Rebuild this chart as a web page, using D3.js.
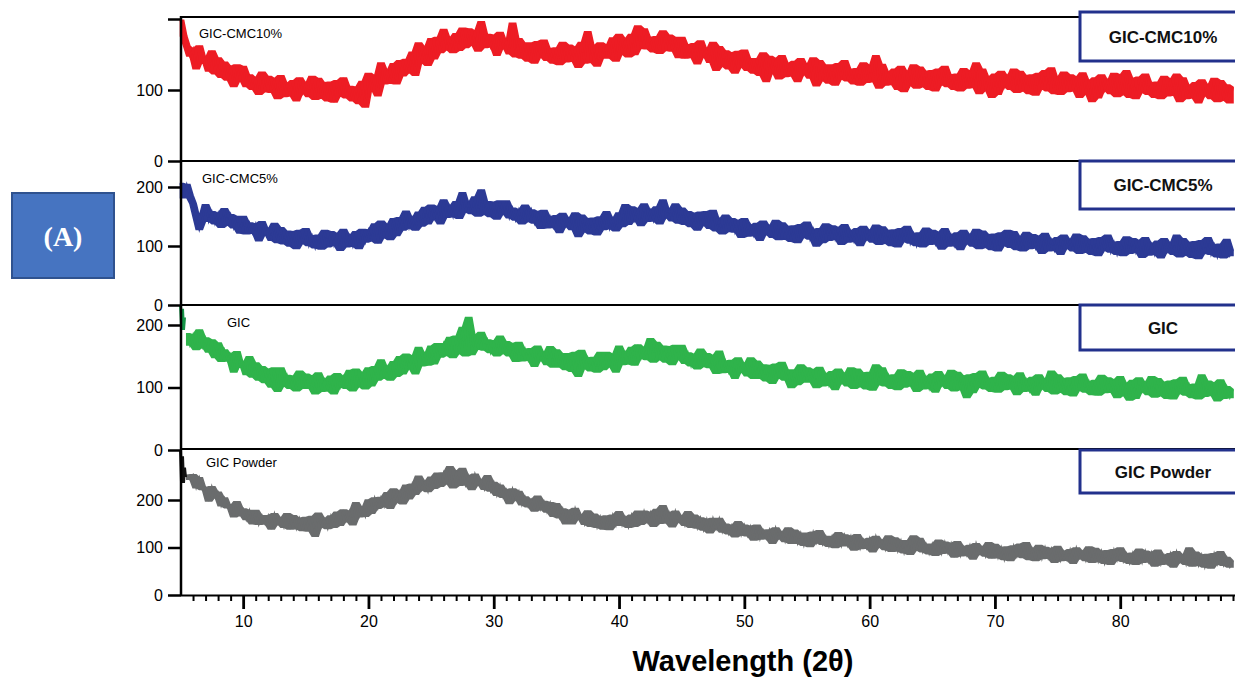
<!DOCTYPE html>
<html><head><meta charset="utf-8">
<script src="https://cdn.jsdelivr.net/npm/d3@7"></script>
<style>body{margin:0;background:#fff;} svg{display:block;font-family:Arial,"Liberation Sans",sans-serif;}</style>
</head><body><svg id="c" width="1235" height="678"></svg>
<script>
// ---------- data ----------
const thetaStart = 5, thetaStep = 0.25;   // 2θ sampling grid (degrees)
const seriesNames = ["GIC-CMC10%", "GIC-CMC5%", "GIC", "GIC Powder"];
const seriesColors = ["#ed1c24", "#2c3a95", "#2fb34b", "#6a6c6d"];

const gicCmc10 = [
198,176,162,148, 158,130,162,141, 145,127,155,123, 145,118,139,114, 133,105,135,114,
133,105,121,101, 117,94,125,98, 119,97,116,88, 120,91,109,92, 113,85,117,96,
109,91,119,87, 116,89,110,85, 111,83,113,92, 117,89,105,85, 104,81,112,76,
123,101,120,92, 138,109,127,110, 137,109,141,120, 143,125,153,121, 166,139,160,135,
172,144,174,153, 185,157,173,153, 179,156,187,160, 186,164,183,155, 196,160,178,161,
177,149,181,160, 169,151,194,147, 172,145,166,141, 166,138,168,147, 170,142,158,138,
159,136,167,140, 163,141,160,132, 167,138,182,139, 162,134,166,145, 163,145,173,141,
178,151,172,147, 178,150,190,159, 186,158,174,154, 175,152,183,156, 177,155,174,146,
174,145,163,146, 165,137,169,148, 157,139,167,128, 161,134,155,130, 152,124,154,133,
156,128,144,124, 144,121,152,112, 147,125,144,116, 148,119,137,120, 140,112,144,123,
135,117,145,106, 141,114,135,110, 135,107,137,116, 141,113,129,109, 130,107,138,111,
134,112,148,103, 136,107,125,108, 129,101,133,98, 125,107,135,103, 132,105,126,101,
127,99,129,108, 133,105,121,101, 122,99,130,103, 126,104,138,95, 129,100,118,90,
122,94,126,105, 119,101,129,97, 126,99,120,95, 121,93,123,102, 127,99,131,95,
117,94,125,98, 121,99,118,90, 124,95,113,84, 117,89,121,100, 113,95,123,91,
121,94,127,90, 116,88,118,97, 122,94,110,90, 111,88,119,92, 115,93,122,84,
117,88,106,89, 110,82,114,93, 106,88,116,84, 113,86,107,82, 104
];

const gicCmc5 = [
206,182,204,186, 172,150,128,146, 170,142,158,138, 155,132,163,136, 153,131,150,122,
150,121,139,122, 137,109,141,120, 128,110,138,106, 131,104,125,100, 124,96,126,105,
129,101,117,97, 118,95,126,99, 124,102,121,93, 128,99,117,100, 124,96,128,107,
127,109,137,105, 142,115,136,111, 146,118,148,127, 159,131,147,127, 157,134,165,138,
169,147,166,138, 178,149,167,150, 175,147,190,158, 173,155,183,151, 195,154,175,150,
174,146,176,155, 176,148,164,144, 161,138,169,142, 161,139,158,130, 160,131,149,132,
151,123,155,134, 146,128,156,116, 152,125,146,121, 147,119,149,128, 158,130,146,126,
156,133,170,137, 166,144,163,135, 171,142,160,143, 166,138,178,149, 161,143,171,139,
164,137,158,133, 155,127,157,136, 158,130,160,126, 144,121,152,125, 146,124,143,115,
146,117,135,118, 138,110,142,121, 133,115,143,111, 139,112,133,108, 134,106,136,115,
140,112,128,100, 129,106,137,110, 134,112,131,103, 136,107,125,108, 129,101,133,112,
125,107,135,103, 132,105,126,101, 127,99,129,108, 133,105,121,101, 122,99,130,103,
126,104,123,95, 129,100,118,101, 122,94,126,105, 118,100,128,96, 125,98,119,94,
120,92,122,101, 126,98,124,94, 115,92,123,96, 119,97,116,88, 121,92,110,93,
114,86,118,97, 110,92,120,88, 117,90,111,86, 112,84,114,93, 118,90,106,86,
107,84,115,88, 112,90,109,81, 114,85,103,86, 108,80,112,91, 104,86,118,82,
112,85,106,81, 107,79,109,88, 114,86,102,82, 103,80,111,84, 94
];

const gic = [
null,null,186,168, 184,161,192,165, 179,157,176,148, 171,142,160,143, 153,125,157,136,
139,121,149,117, 139,112,133,108, 129,101,131,94, 131,103,119,99, 118,95,126,99,
121,99,118,90, 123,94,112,95, 118,90,122,101, 117,99,127,95, 129,102,123,98,
131,103,133,112, 144,116,132,112, 141,118,149,122, 153,131,150,122, 164,135,153,136,
166,138,170,149, 170,152,180,148, 182,155,196,151, 212,153,183,162, 188,160,176,156,
174,151,182,155, 173,151,170,142, 172,143,161,144, 162,134,166,145, 155,137,165,133,
160,133,154,129, 154,126,156,118, 159,131,147,127, 148,125,156,129, 156,134,153,125,
166,137,155,138, 164,136,168,147, 163,145,178,141, 172,145,166,141, 165,137,167,146,
167,139,155,135, 153,130,161,134, 154,132,151,123, 158,124,142,125, 143,115,147,126,
137,119,147,115, 142,115,136,111, 135,107,137,116, 140,112,128,100, 128,105,136,109,
131,109,128,100, 132,103,121,104, 125,97,129,108, 121,103,131,99, 129,102,123,98,
124,96,136,105, 131,103,119,99, 120,97,128,101, 125,103,122,94, 127,98,116,99,
121,93,125,104, 117,99,127,95, 124,97,118,84, 120,92,122,101, 126,98,114,94,
116,93,124,97, 120,98,117,89, 123,94,112,95, 116,88,120,99, 112,94,126,90,
120,93,114,89, 115,87,117,96, 121,93,109,89, 111,88,119,92, 115,93,112,84,
117,88,106,80, 111,83,115,94, 107,89,117,85, 114,87,108,83, 110,82,112,91,
116,88,104,84, 105,82,120,86, 110,88,107,79, 112,83,101,84, 97
];

const gicPowder = [
null,null,252,244, 253,226,247,222, 226,198,228,207, 216,188,204,184, 188,165,196,169,
181,159,178,150, 178,149,167,150, 167,139,171,150, 161,143,171,139, 167,140,161,136,
163,135,165,124, 172,144,160,140, 166,143,174,147, 179,157,176,148, 194,165,183,166,
200,172,204,183, 205,187,215,183, 223,196,217,192, 231,203,233,212, 250,222,238,218,
248,225,256,229, 257,235,270,226, 260,231,266,232, 250,222,254,233, 241,223,251,219,
237,210,231,206, 221,193,223,202, 218,190,206,186, 200,177,208,181, 197,175,194,166,
192,163,181,150, 178,150,182,161, 167,149,177,145, 170,143,164,139, 166,138,168,147,
175,147,163,143, 168,145,176,149, 176,154,173,145, 180,151,188,152, 172,144,176,155,
165,147,175,143, 168,141,162,137, 159,131,161,140, 161,133,149,129, 146,123,154,127,
147,125,144,116, 147,118,136,119, 137,109,141,120, 131,113,141,109, 136,109,130,105,
130,102,132,111, 135,107,123,103, 123,100,131,104, 126,104,123,95, 127,98,116,99,
119,91,123,102, 114,96,124,92, 120,93,114,89, 114,86,124,95, 119,91,107,87,
107,84,115,88, 111,89,108,80, 112,83,101,84, 104,76,108,87, 100,82,110,78,
106,79,100,75, 101,73,103,82, 107,79,110,75, 96,73,104,77, 100,78,97,69,
102,73,91,74, 95,67,99,78, 91,73,101,69, 98,71,92,67, 93,65,95,74,
99,71,87,67, 88,65,96,69, 92,70,89,61, 94,65,83,66, 87,59,91,70,
83,65,99,61, 90,63,84,59, 85,57,87,66, 91,63,79,59, 72
];

// short darker traces at the very start of two scans
const gicLeadTheta = [5.0, 5.08, 5.16, 5.24, 5.32];
const gicLeadValues = [232, 200, 226, 192, 212];
const powderLeadTheta = [5.0, 5.08, 5.16, 5.24, 5.32, 5.4];
const powderLeadValues = [305, 238, 292, 236, 268, 248];

const xMajorTicks = [10, 20, 30, 40, 50, 60, 70, 80];
const yTickValues = [0, 100, 200];
const yTickLabels = [["0", "100", ""], ["0", "100", "200"], ["0", "100", "200"], ["0", "100", "200"]];
const xTitle = "Wavelength (2θ)";
const panelTag = "(A)";

// ---------- layout ----------
const svg = d3.select("#c");
const W = 1235;
const axisX = 181;
const x = d3.scaleLinear().domain([5, 89.2]).range([180.5, 1235.5]);

const panels = [
  {top: 17,  y: d3.scaleLinear().domain([0, 100]).range([161, 90]),  box: [12, 49],  lbl: [199, 38]},
  {top: 161, y: d3.scaleLinear().domain([0, 200]).range([305, 187]), box: [161, 48], lbl: [202, 183]},
  {top: 305, y: d3.scaleLinear().domain([0, 200]).range([450, 325]), box: [305, 45], lbl: [227, 327]},
  {top: 449, y: d3.scaleLinear().domain([0, 200]).range([595, 500]), box: [450, 43], lbl: [206, 467]}
];
const allSeries = [gicCmc10, gicCmc5, gic, gicPowder];

// traces: the dense noisy scan is drawn as the band its samples sweep
// (local min..max of neighbouring samples) plus the raw trace on top.
allSeries.forEach((vals, i) => {
  const p = panels[i];
  const pts = vals.map((v, k) => {
    const win = [vals[k - 1], v, vals[k + 1]].filter(q => q != null);
    return {t: thetaStart + k * thetaStep, v, lo: d3.min(win), hi: d3.max(win)};
  });
  const area = d3.area().defined(d => d.v != null)
    .x(d => x(d.t)).y0(d => p.y(d.lo)).y1(d => p.y(d.hi));
  svg.append("path").datum(pts).attr("d", area)
    .attr("fill", seriesColors[i]).attr("stroke", seriesColors[i]).attr("stroke-width", 1.6)
    .attr("stroke-linejoin", "miter");
  const line = d3.line().defined(d => d.v != null).x(d => x(d.t)).y(d => p.y(d.v));
  svg.append("path").datum(pts).attr("d", line)
    .attr("fill", "none").attr("stroke", seriesColors[i])
    .attr("stroke-width", 1.8).attr("stroke-linejoin", "miter").attr("stroke-miterlimit", 4);
});
function lead(th, vals, p, color) {
  const pts = th.map((t, k) => ({t, v: vals[k]}));
  svg.append("path").datum(pts)
    .attr("d", d3.line().x(d => x(d.t)).y(d => p.y(d.v)))
    .attr("fill", "none").attr("stroke", color).attr("stroke-width", 3);
}
lead(gicLeadTheta, gicLeadValues, panels[2], "#159447");
lead(powderLeadTheta, powderLeadValues, panels[3], "#111");

// separators
panels.forEach(p => {
  svg.append("line").attr("x1", axisX).attr("x2", W).attr("y1", p.top).attr("y2", p.top)
    .attr("stroke", "#000").attr("stroke-width", 2);
});

// y axes
panels.forEach((p, i) => {
  const g = svg.append("g").attr("transform", `translate(${axisX},0)`)
    .call(d3.axisLeft(p.y).tickValues(yTickValues).tickSize(13).tickPadding(5)
      .tickFormat((d, k) => yTickLabels[i][k]));
  g.select(".domain").remove();
  g.selectAll(".tick line").attr("stroke", "#000").attr("stroke-width", 2.5);
  g.selectAll(".tick text").attr("font-size", 16).attr("fill", "#000")
    .attr("font-family", "Arial, 'Liberation Sans', sans-serif");
});
svg.append("line").attr("x1", axisX).attr("x2", axisX).attr("y1", 16).attr("y2", 596)
  .attr("stroke", "#000").attr("stroke-width", 2.5);

// x axis
const gx = svg.append("g").attr("transform", "translate(0,595)");
const minorG = gx.append("g").call(d3.axisBottom(x)
  .tickValues(d3.range(6, 90).filter(d => d % 10 !== 0)).tickSize(6).tickSizeOuter(0).tickFormat(""));
minorG.select(".domain").remove();
minorG.selectAll(".tick line").attr("stroke", "#000").attr("stroke-width", 2);
const majorG = gx.append("g").call(d3.axisBottom(x)
  .tickValues(xMajorTicks).tickSize(14).tickSizeOuter(0).tickPadding(7).tickFormat(d3.format("d")));
majorG.select(".domain").attr("stroke", "#000").attr("stroke-width", 2);
majorG.selectAll(".tick line").attr("stroke", "#000").attr("stroke-width", 2.8);
majorG.selectAll(".tick text").attr("font-size", 16).attr("fill", "#000")
  .attr("font-family", "Arial, 'Liberation Sans', sans-serif");

svg.append("text").attr("x", 743).attr("y", 671).attr("text-anchor", "middle")
  .attr("font-size", 29).attr("font-weight", "bold").attr("fill", "#000").text(xTitle);

// small in-panel labels
panels.forEach((p, i) => {
  svg.append("text").attr("x", p.lbl[0]).attr("y", p.lbl[1])
    .attr("font-size", 13).attr("fill", "#000").text(seriesNames[i]);
});

// legend boxes
panels.forEach((p, i) => {
  svg.append("rect").attr("x", 1080).attr("y", p.box[0]).attr("width", 170).attr("height", p.box[1])
    .attr("fill", "#fff").attr("stroke", "#22318c").attr("stroke-width", 3);
  svg.append("text").attr("x", 1163).attr("y", p.box[0] + p.box[1] / 2 + 6)
    .attr("text-anchor", "middle").attr("font-size", 17).attr("font-weight", "bold")
    .attr("fill", "#111").text(seriesNames[i]);
});

// (A) tag
svg.append("rect").attr("x", 12).attr("y", 193).attr("width", 102).attr("height", 85)
  .attr("fill", "#4674c1").attr("stroke", "#2f528f").attr("stroke-width", 2);
svg.append("text").attr("x", 63).attr("y", 246).attr("text-anchor", "middle")
  .attr("font-family", "'Liberation Serif', 'Times New Roman', serif")
  .attr("font-size", 28).attr("font-weight", "bold").attr("fill", "#fff").text(panelTag);
</script></body></html>
